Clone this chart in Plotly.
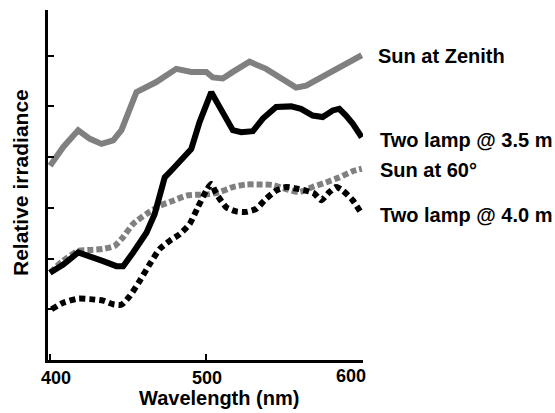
import plotly.graph_objects as go

# Sun at Zenith (grey solid)
zen_x = [400, 408.5, 418, 425.5, 433, 440.4, 445.7, 455.3, 468, 480.8, 490.4, 500, 504.2, 510.6, 517,
         527.7, 538.3, 546.8, 557.5, 563.9, 572.4, 580.9, 589.5, 599.5]
zen_y = [3.83, 4.20, 4.53, 4.36, 4.26, 4.33, 4.53, 5.28, 5.48, 5.74, 5.68, 5.68, 5.57, 5.55, 5.68,
         5.88, 5.74, 5.58, 5.37, 5.41, 5.55, 5.68, 5.84, 6.01]

# Two lamp @ 3.5 m (black solid)
l35_x = [400, 408.5, 418, 425.5, 434, 442.5, 446.8, 453.2, 461.7, 467, 473.4, 478.7, 485.1, 490.4,
         495.7, 503.2, 508.5, 517, 522.4, 529.8, 536.2, 544.7, 554.3, 560.6, 568.1, 574.5, 580.9,
         585.1, 589.4, 593.7, 599.5]
l35_y = [1.72, 1.88, 2.12, 2.05, 1.95, 1.85, 1.85, 2.12, 2.51, 2.88, 3.60, 3.77, 3.97, 4.16,
         4.69, 5.28, 4.99, 4.53, 4.49, 4.51, 4.76, 4.99, 5.00, 4.95, 4.82, 4.79, 4.92,
         4.95, 4.82, 4.66, 4.39]

# Sun at 60 degrees (grey dotted)
s60_x = [400, 408.5, 418, 425.5, 434, 441.4, 446.7, 453.1, 461.7, 470.2, 478.7, 487.2, 495.7,
         502.1, 508.5, 517, 525.5, 534, 542.5, 551, 559.6, 568, 576.6, 585.1, 593.6, 599.5]
s60_y = [1.72, 1.96, 2.15, 2.17, 2.19, 2.25, 2.42, 2.68, 2.88, 3.04, 3.14, 3.24, 3.26,
         3.27, 3.31, 3.41, 3.46, 3.46, 3.45, 3.37, 3.31, 3.41, 3.50, 3.60, 3.72, 3.77]

# Two lamp @ 4.0 m (black dotted)
l40_x = [401, 408.5, 418, 425.5, 434, 440.4, 445.7, 451, 457.4, 463.8, 470.2, 476.6, 483, 489.3,
         494.6, 500, 503.2, 506.4, 512.8, 519.1, 525.5, 531.9, 538.3, 544.7, 551.1, 557.5,
         563.9, 569.2, 573.5, 578.8, 583.1, 587.4, 593.7, 599.5]
l40_y = [1.00, 1.13, 1.21, 1.20, 1.17, 1.10, 1.09, 1.26, 1.56, 1.89, 2.19, 2.35, 2.48, 2.68,
         3.01, 3.34, 3.47, 3.28, 3.01, 2.93, 2.92, 2.98, 3.18, 3.34, 3.41, 3.38,
         3.34, 3.28, 3.15, 3.31, 3.41, 3.34, 3.15, 2.88]

series_names = ["Sun at Zenith", "Two lamp @ 3.5 m", "Sun at 60°", "Two lamp @ 4.0 m"]
x_ticks = [400, 500, 600]
y_ticks = [1, 2, 3, 4, 5, 6]

GREY = "#808080"
FONT = "Liberation Sans, Arial, sans-serif"
LW = 6

fig = go.Figure()
fig.add_trace(go.Scatter(x=s60_x, y=s60_y, mode="lines", name=series_names[2],
                         line=dict(color=GREY, width=LW, dash="6px,3px", shape="spline", smoothing=0.6)))
fig.add_trace(go.Scatter(x=l40_x, y=l40_y, mode="lines", name=series_names[3],
                         line=dict(color="black", width=LW, dash="6px,4px", shape="spline", smoothing=0.6)))
fig.add_trace(go.Scatter(x=zen_x, y=zen_y, mode="lines", name=series_names[0],
                         line=dict(color=GREY, width=LW)))
fig.add_trace(go.Scatter(x=l35_x, y=l35_y, mode="lines", name=series_names[1],
                         line=dict(color="black", width=LW)))

W, H = 555, 413
L, R, T, B = 48, 192, 10, 53
pw, ph = W - L - R, H - T - B

def px(xp):
    return (xp - L) / pw

def py(yp):
    return (H - B - yp) / ph

annotations = []
# tick labels
for v, cx, cy in zip(x_ticks, [56, 207, 351], [378, 378, 376]):
    annotations.append(dict(text=f"<b>{v}</b>", x=px(cx), y=py(cy), xref="paper", yref="paper",
                            xanchor="center", yanchor="middle", showarrow=False, borderpad=0,
                            font=dict(size=18, color="black", family=FONT)))
# axis titles
annotations.append(dict(text="<b>Wavelength (nm)</b>", x=px(219), y=py(398), xref="paper", yref="paper",
                        xanchor="center", yanchor="middle", showarrow=False, borderpad=0,
                        font=dict(size=20, color="black", family=FONT)))
annotations.append(dict(text="<b>Relative irradiance</b>", x=px(20), y=py(183), xref="paper", yref="paper",
                        xanchor="center", yanchor="middle", showarrow=False, textangle=-90,
                        font=dict(size=21, color="black", family=FONT)))
# series labels
for name, cx, cy in zip(series_names, [376, 378, 378, 378], [56, 140, 170, 215]):
    annotations.append(dict(text=f"<b>{name}</b>", x=px(cx), y=py(cy), xref="paper", yref="paper",
                            xanchor="left", yanchor="middle", showarrow=False,
                            font=dict(size=20, color="black", family=FONT)))

fig.update_layout(
    width=W, height=H,
    margin=dict(l=L, r=R, t=T, b=B, pad=0),
    paper_bgcolor="white", plot_bgcolor="white",
    showlegend=False,
    annotations=annotations,
    xaxis=dict(range=[398.7, 600.3], tickvals=x_ticks, showticklabels=False, ticks="inside",
               ticklen=6, tickwidth=2, tickcolor="black", showline=True, linewidth=3,
               linecolor="black", showgrid=False, zeroline=False),
    yaxis=dict(range=[0, 6.9], tickvals=y_ticks, showticklabels=False, ticks="inside",
               ticklen=6, tickwidth=2, tickcolor="black", showline=True, linewidth=3,
               linecolor="black", showgrid=False, zeroline=False),
)

fig.write_html("out.html")
